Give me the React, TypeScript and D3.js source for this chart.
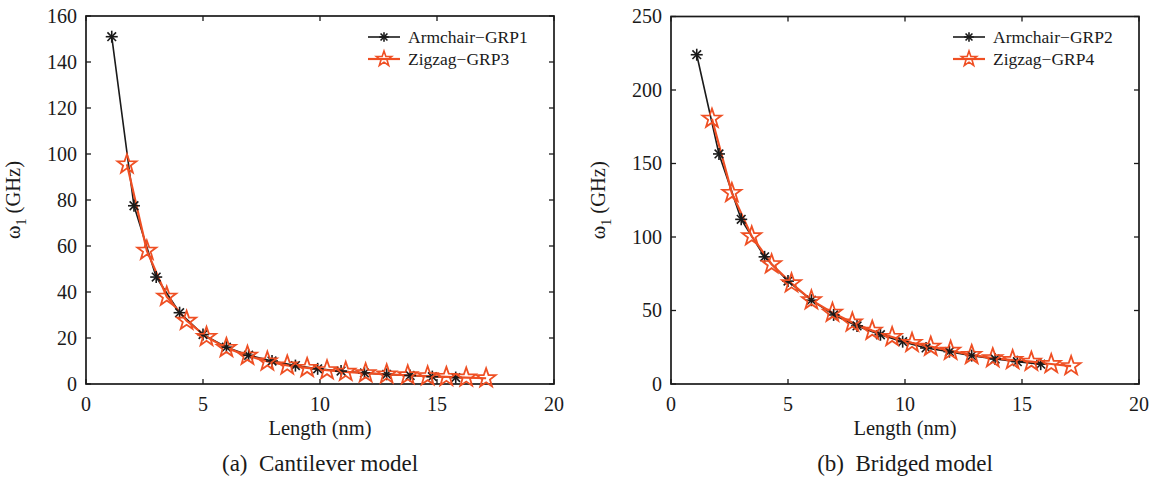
import React from "react";
import * as d3 from "d3";

const xTicks = [0, 5, 10, 15, 20];
const leftYTicks = [0, 20, 40, 60, 80, 100, 120, 140, 160];
const rightYTicks = [0, 50, 100, 150, 200, 250];

const armchairLength = [1.1, 2.05, 3.0, 4.0, 5.0, 6.0, 6.95, 7.95, 8.95, 9.9, 10.9, 11.9, 12.85, 13.85, 14.8, 15.8];
const zigzagLength = [1.75, 2.6, 3.45, 4.3, 5.15, 6.0, 6.9, 7.75, 8.6, 9.45, 10.3, 11.1, 11.95, 12.85, 13.75, 14.6, 15.4, 16.25, 17.1];

const grp1 = [151, 77.5, 46.5, 31, 21.5, 16, 12.5, 10, 8, 6.6, 5.6, 4.8, 4.2, 3.7, 3.2, 2.8];
const grp3 = [95.5, 58, 38, 27.5, 20.5, 15.7, 12.3, 9.8, 8.1, 7.0, 6.0, 5.3, 4.7, 4.2, 3.8, 3.4, 3.1, 2.8, 2.5];
const grp2 = [224, 156.5, 112, 86.5, 70, 57, 47, 39.5, 33.5, 28.8, 24.5, 22, 19.3, 17, 15.2, 13.5];
const grp4 = [180.5, 130, 100.5, 81.5, 68.5, 57, 48.5, 41.8, 36.3, 32, 28, 25.4, 22.6, 19.8, 17.6, 16.3, 15.2, 13.6, 12.2];

const panels = [
  {
    left: 86, right: 554, top: 16, bottom: 384, yMax: 160, yTicks: leftYTicks,
    a: grp1, z: grp3, aName: "Armchair\u2212GRP1", zName: "Zigzag\u2212GRP3",
    caption: "(a)\u00a0\u00a0Cantilever model", legendX: 368,
  },
  {
    left: 671, right: 1139, top: 16.5, bottom: 384, yMax: 250, yTicks: rightYTicks,
    a: grp2, z: grp4, aName: "Armchair\u2212GRP2", zName: "Zigzag\u2212GRP4",
    caption: "(b)\u00a0\u00a0Bridged model", legendX: 953,
  },
];

const BLACK = "#1a1a1a";
const ORANGE = "#ef4f23";
const FONT = "'Liberation Serif', 'Times New Roman', serif";

function Asterisk({ x, y, r = 6 }: { x: number; y: number; r?: number }) {
  const d = r * 0.72;
  return (
    <g stroke={BLACK} strokeWidth={1.6}>
      <line x1={x - r} y1={y} x2={x + r} y2={y} />
      <line x1={x} y1={y - r} x2={x} y2={y + r} />
      <line x1={x - d} y1={y - d} x2={x + d} y2={y + d} />
      <line x1={x - d} y1={y + d} x2={x + d} y2={y - d} />
    </g>
  );
}

function starPath(cx: number, cy: number, R: number) {
  const rr = R * 0.4;
  const pts: [number, number][] = [];
  for (let i = 0; i < 10; i++) {
    const ang = -Math.PI / 2 + (i * Math.PI) / 5;
    const rad = i % 2 === 0 ? R : rr;
    pts.push([cx + rad * Math.cos(ang), cy + rad * Math.sin(ang)]);
  }
  return "M" + pts.map((p) => p.join(",")).join("L") + "Z";
}

function Star({ x, y, R = 10, w = 1.8 }: { x: number; y: number; R?: number; w?: number }) {
  return <path d={starPath(x, y, R)} fill="none" stroke={ORANGE} strokeWidth={w} strokeLinejoin="miter" />;
}

function Panel({ p }: { p: (typeof panels)[number] }) {
  const x = d3.scaleLinear().domain([0, 20]).range([p.left, p.right]);
  const y = d3.scaleLinear().domain([0, p.yMax]).range([p.bottom, p.top]);
  const line = d3.line<[number, number]>().x((d) => x(d[0])).y((d) => y(d[1]));
  const aPts: [number, number][] = armchairLength.map((l, i) => [l, p.a[i]]);
  const zPts: [number, number][] = zigzagLength.map((l, i) => [l, p.z[i]]);
  const tick = 5;
  const cx = (p.left + p.right) / 2;
  const cy = (p.top + p.bottom) / 2;
  const lx = p.legendX;
  return (
    <g fontFamily={FONT} fill={BLACK}>
      {xTicks.map((t) => (
        <g key={"xt" + t}>
          <line x1={x(t)} x2={x(t)} y1={p.bottom} y2={p.bottom - tick} stroke={BLACK} strokeWidth={1.3} />
          <line x1={x(t)} x2={x(t)} y1={p.top} y2={p.top + tick} stroke={BLACK} strokeWidth={1.3} />
          <text x={x(t)} y={411} textAnchor="middle" fontSize={20}>{t}</text>
        </g>
      ))}
      {p.yTicks.map((t) => (
        <g key={"yt" + t}>
          <line x1={p.left} x2={p.left + tick} y1={y(t)} y2={y(t)} stroke={BLACK} strokeWidth={1.3} />
          <line x1={p.right} x2={p.right - tick} y1={y(t)} y2={y(t)} stroke={BLACK} strokeWidth={1.3} />
          <text x={p.left - 9} y={y(t) + 6.5} textAnchor="end" fontSize={20}>{t}</text>
        </g>
      ))}
      <rect x={p.left} y={p.top} width={p.right - p.left} height={p.bottom - p.top} fill="none" stroke={BLACK} strokeWidth={1.7} />
      <path d={line(aPts) || ""} fill="none" stroke={BLACK} strokeWidth={1.6} />
      <path d={line(zPts) || ""} fill="none" stroke={ORANGE} strokeWidth={2.2} />
      {aPts.map((d, i) => <Asterisk key={"a" + i} x={x(d[0])} y={y(d[1])} />)}
      {zPts.map((d, i) => <Star key={"z" + i} x={x(d[0])} y={y(d[1])} />)}
      <line x1={lx} x2={lx + 32} y1={37} y2={37} stroke={BLACK} strokeWidth={1.6} />
      <Asterisk x={lx + 16} y={37} r={4.8} />
      <text x={lx + 40} y={43} fontSize={17.5}>{p.aName}</text>
      <line x1={lx} x2={lx + 32} y1={59} y2={59} stroke={ORANGE} strokeWidth={2.2} />
      <Star x={lx + 16} y={59} R={8} w={1.6} />
      <text x={lx + 40} y={65} fontSize={17.5}>{p.zName}</text>
      <text x={cx} y={435} textAnchor="middle" fontSize={20.5}>Length (nm)</text>
      <text transform={`translate(${p.left - 66},${cy}) rotate(-90)`} textAnchor="middle" fontSize={20.5}>
        ω<tspan fontSize={14} dy={6}>1</tspan><tspan dy={-6}> (GHz)</tspan>
      </text>
      <text x={cx} y={471} textAnchor="middle" fontSize={23}>{p.caption}</text>
    </g>
  );
}

export default function App() {
  return (
    <svg width={1154} height={480} style={{ position: "absolute", left: 0, top: 0, background: "#fff" }}>
      <rect width={1154} height={480} fill="#fff" />
      {panels.map((p, i) => <Panel key={i} p={p} />)}
    </svg>
  );
}
